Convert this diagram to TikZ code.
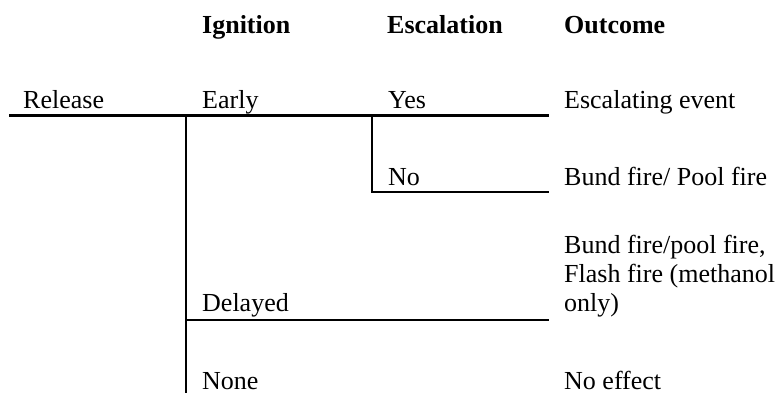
\documentclass[tikz,border=0pt]{standalone}
\usepackage{fontspec}
\setmainfont{Liberation Serif}
\begin{document}
\begin{tikzpicture}[x=1pt,y=1pt,
  lbl/.style={inner sep=0pt, anchor=base west, font=\fontsize{26}{29}\selectfont, align=left},
  hdr/.style={lbl, font=\fontsize{26}{29}\selectfont\bfseries},
  branch/.style={line width=2.4pt, line cap=butt}]
\useasboundingbox (0,0) rectangle (780,-392);
% headers
\node[hdr] (hIgn) at (202,-33.5) {Ignition};
\node[hdr] (hEsc) at (387,-33.5) {Escalation};
\node[hdr] (hOut) at (564,-33.5) {Outcome};
% labels
\node[lbl] (rel) at (23,-108.5) {Release};
\node[lbl] (early) at (202,-108.5) {Early};
\node[lbl] (yes) at (388,-108.5) {Yes};
\node[lbl] (oEsc) at (564,-108.5) {Escalating event};
\node[lbl] (no) at (388,-185) {No};
\node[lbl] (oBund) at (564,-185) {Bund fire/ Pool fire};
\node[lbl] (oDel) at (564,-311) {Bund fire/pool fire,\\Flash fire (methanol\\only)};
\node[lbl] (delayed) at (202,-311.5) {Delayed};
\node[lbl] (none) at (202,-389) {None};
\node[lbl] (oNone) at (564,-389) {No effect};
% tree coordinates
\coordinate (root) at (9,-115.5);
\coordinate (b1) at (186,-115.5);
\coordinate (b2) at (372,-115.5);
\coordinate (yesEnd) at (549,-115.5);
\coordinate (noEnd) at (549,-192);
\coordinate (delStart) at (186,-320);
\coordinate (delEnd) at (549,-320);
\coordinate (b1Bottom) at (186,-394);
% tree
\draw[branch] (root) -- (yesEnd);
\draw[branch] (b1) -- (b1Bottom);
\draw[branch] (b2) |- (noEnd);
\draw[branch] (delStart) -- (delEnd);
\end{tikzpicture}
\end{document}
